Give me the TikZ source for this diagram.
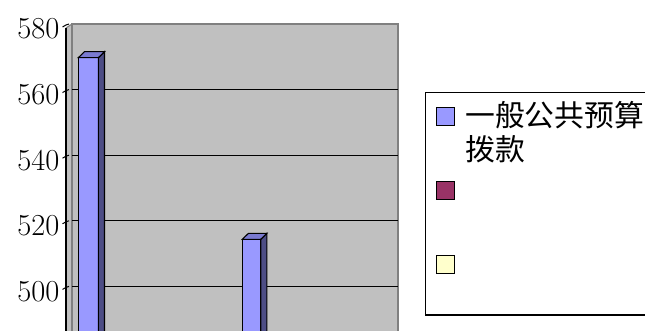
\documentclass[tikz,border=0pt]{standalone}
\usepackage{fontspec}
\newfontfamily\cjk{Noto Sans CJK SC}
\usepackage{tikz}
\usetikzlibrary{positioning}
\usepackage{xcolor}
\definecolor{wallgray}{HTML}{C0C0C0}
\definecolor{edgegray}{HTML}{808080}
\definecolor{barfront}{HTML}{9999FF}
\definecolor{bartop}{HTML}{7A7AD0}
\definecolor{barside}{HTML}{4D4D85}
\definecolor{plum}{HTML}{993366}
\definecolor{cream}{HTML}{FFFFCC}

\newcommand{\colbar}[3]{%
	\filldraw[barline, fill=barfront] (#1,#3) rectangle (#2,340);
	\filldraw[barline, fill=barside] (#2,#3) -- ++(6.2,-6) -- (#2+6.2,340) -- (#2,340) -- cycle;
	\filldraw[barline, fill=bartop] (#1,#3) -- ++(6.2,-6) -- (#2+6.2,#3-6) -- (#2,#3) -- cycle;
}

\begin{document}
\begin{tikzpicture}[x=1pt, y=-1pt,
	ticklabel/.style = {anchor=east, inner sep=0pt, font=\fontsize{30.5}{30.5}\selectfont},
	grid/.style = {draw=black, line width=1.2pt},
	barline/.style = {draw=black, line width=1.1pt, line join=miter},
	key/.style = {draw=black, line width=1.2pt, minimum size=18pt, inner sep=0pt, anchor=north west},
	keytext/.style = {anchor=base west, inner sep=0pt, font=\cjk\fontsize{29.8}{35}\selectfont}]
	\clip (0,0) rectangle (645,331);
	\fill[white] (0,0) rectangle (645,331);
	\filldraw[fill=wallgray, draw=edgegray, line width=1pt] (66,28) -- (72,24) -- (72,340) -- (66,340) -- cycle;
	\filldraw[fill=wallgray, draw=edgegray, line width=1.6pt] (72,340) -- (72,24) -- (398,24) -- (398,340);
	\draw[black, line width=1.2pt] (66,28) -- (66,340);
	\foreach \v/\y in {580/24, 560/89.6, 540/155.2, 520/220.8, 500/286.4} {
		\draw[black, line width=1pt] (62.5,\y+3) -- (66,\y+1) -- (69,\y);
		\node[ticklabel] (lab\v) at (59.5,\y+5) {\v};
	}
	\foreach \y in {89.6, 155.2, 220.8, 286.4}
		\draw[grid] (72,\y) -- (398,\y);
	\colbar{78.3}{98.3}{57.7}
	\colbar{242.3}{260.7}{239.3}
	\draw[black, line width=1.5pt] (425.7,92.3) rectangle (660,315);
	\node[key, fill=barfront] (key1) at (435.9,106.9) {};
	\node[key, fill=plum] (key2) at (435.9,180.9) {};
	\node[key, fill=cream] (key3) at (435.9,254.5) {};
	\node[keytext] (name1) at (465,127) {一般公共预算};
	\node[keytext] (name1b) at (465,161) {拨款};
\end{tikzpicture}
\end{document}
